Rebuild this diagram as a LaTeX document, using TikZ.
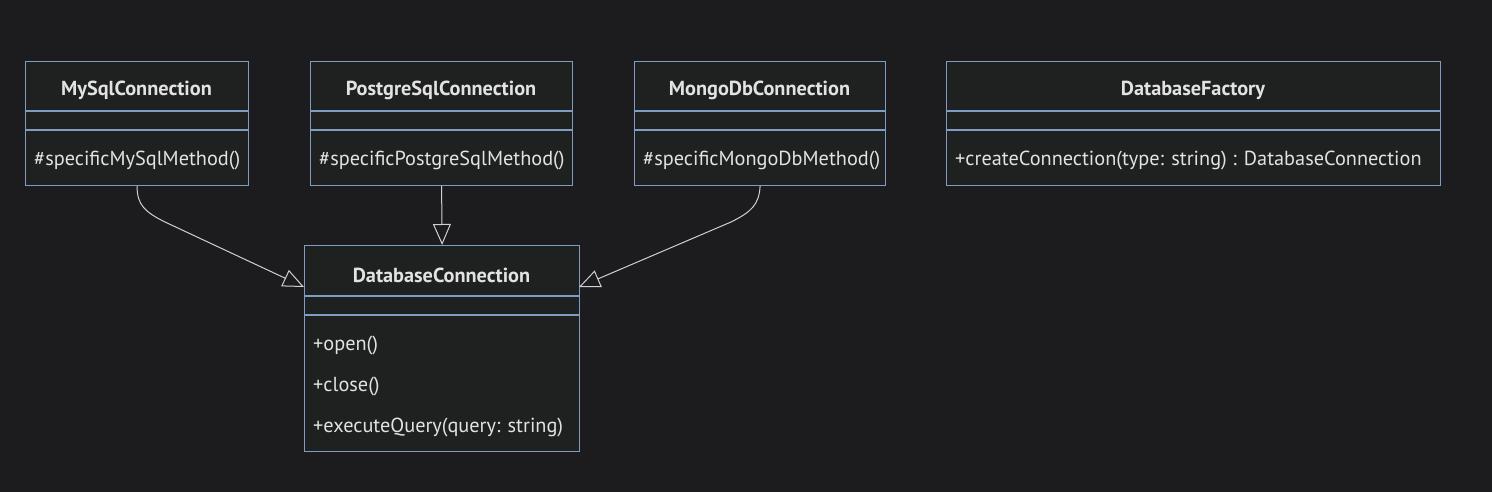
\documentclass[tikz,border=0pt]{standalone}
\usepackage{fontspec}
\setmainfont{PT Sans}
\usetikzlibrary{arrows.meta}
\definecolor{bg}{HTML}{1C1C1E}
\definecolor{boxfill}{HTML}{1F2020}
\definecolor{boxline}{HTML}{7F9DC2}
\definecolor{txt}{HTML}{E2E2E2}
\definecolor{edge}{HTML}{D0D0D0}
\tikzset{
  umlbox/.style={draw=boxline, fill=boxfill, line width=1.2pt, anchor=north west, inner sep=0pt},
  sepline/.style={draw=boxline, line width=1.2pt},
  title/.style={text=txt, font=\fontsize{20.3}{24}\selectfont\bfseries, inner sep=0pt},
  member/.style={text=txt, font=\fontsize{20.3}{24}\selectfont, inner sep=0pt, anchor=west},
  inherit/.style={draw=edge, line width=1pt, -{Triangle[open, length=21pt, width=18pt, fill=bg]}},
}
\begin{document}
\begin{tikzpicture}[x=1pt, y=-1pt]
\useasboundingbox[fill=bg] (0,0) rectangle (1492,492);

% MySqlConnection
\node[umlbox, minimum width=223pt, minimum height=124pt] (my) at (25,61) {};
\node[title] (myt) at (136.5,90.5) {MySqlConnection};
\draw[sepline] (25,111) -- (248,111);
\draw[sepline] (25,130) -- (248,130);
\node[member] (mym) at (34,160.5) {\#specificMySqlMethod()};

% PostgreSqlConnection
\node[umlbox, minimum width=262pt, minimum height=124pt] (pg) at (310,61) {};
\node[title] (pgt) at (441,90.5) {PostgreSqlConnection};
\draw[sepline] (310,111) -- (572,111);
\draw[sepline] (310,130) -- (572,130);
\node[member] (pgm) at (319,160.5) {\#specificPostgreSqlMethod()};

% MongoDbConnection
\node[umlbox, minimum width=251pt, minimum height=124pt] (mg) at (634,61) {};
\node[title] (mgt) at (759.5,90.5) {MongoDbConnection};
\draw[sepline] (634,111) -- (885,111);
\draw[sepline] (634,130) -- (885,130);
\node[member] (mgm) at (643,160.5) {\#specificMongoDbMethod()};

% DatabaseFactory
\node[umlbox, minimum width=494pt, minimum height=124pt] (df) at (946,61) {};
\node[title] (dft) at (1193,90.5) {DatabaseFactory};
\draw[sepline] (946,111) -- (1440,111);
\draw[sepline] (946,130) -- (1440,130);
\node[member] (dfm) at (955,160.5) {+createConnection(type: string) : DatabaseConnection};

% DatabaseConnection
\node[umlbox, minimum width=275pt, minimum height=206pt] (dc) at (304,245) {};
\node[title] (dct) at (441.5,275.5) {DatabaseConnection};
\draw[sepline] (304,296) -- (579,296);
\draw[sepline] (304,315) -- (579,315);
\node[member] (dc1) at (313,345.5) {+open()};
\node[member] (dc2) at (313,386.5) {+close()};
\node[member] (dc3) at (313,427.5) {+executeQuery(query: string)};

% edges
\coordinate (dcl) at (304,287);
\coordinate (dcr) at (579,287);
\draw[inherit] (my.south) .. controls (137,205) and (145,212) .. (165,222) -- (dcl);
\draw[inherit] (pg.south) -- (dc.north);
\draw[inherit] (mg.south) .. controls (759,205) and (751,212) .. (731,222) -- (dcr);
\end{tikzpicture}
\end{document}
